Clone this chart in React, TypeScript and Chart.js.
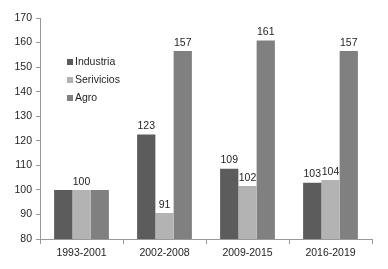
import React, { useEffect, useRef } from "react";
import { Chart, registerables } from "chart.js";

Chart.register(...registerables);

const categories = ["1993-2001", "2002-2008", "2009-2015", "2016-2019"];
const seriesNames = ["Industria", "Serivicios", "Agro"];
const industria = [100, 122.6, 108.6, 102.9];
const servicios = [100, 90.6, 101.6, 104];
const agro = [100, 156.6, 160.8, 156.6];
const industriaLabels = [null, "123", "109", "103"];
const serviciosLabels = ["100", "91", "102", "104"];
const agroLabels = [null, "157", "161", "157"];
const yTicks = [80, 90, 100, 110, 120, 130, 140, 150, 160, 170];

const colors = ["#5c5c5c", "#b3b3b3", "#808080"];
const FONT = "Liberation Sans, Arial, sans-serif";
const FS = 10.5;

export default function App() {
  const ref = useRef<HTMLCanvasElement | null>(null);
  useEffect(() => {
    document.body.style.margin = "0";
    const labelSets = [industriaLabels, serviciosLabels, agroLabels];
    const labelPlugin = {
      id: "valueLabels",
      afterDatasetsDraw(chart: any) {
        const ctx = chart.ctx;
        ctx.save();
        ctx.font = `${FS}px ${FONT}`;
        ctx.fillStyle = "#1e1e1e";
        ctx.textAlign = "center";
        ctx.textBaseline = "bottom";
        chart.data.datasets.forEach((_: any, di: number) => {
          const meta = chart.getDatasetMeta(di);
          meta.data.forEach((bar: any, i: number) => {
            const t = labelSets[di][i];
            if (t) ctx.fillText(t, bar.x, bar.y - 3);
          });
        });
        // legend
        const lx = 67;
        const ly = [62, 80, 98];
        seriesNames.forEach((n, i) => {
          ctx.fillStyle = colors[i];
          ctx.fillRect(lx, ly[i] - 3, 6, 6);
          ctx.fillStyle = "#1e1e1e";
          ctx.textAlign = "left";
          ctx.textBaseline = "middle";
          ctx.fillText(n, lx + 8, ly[i] + 0.5);
        });
        ctx.restore();
      },
    };
    const chart = new Chart(ref.current as HTMLCanvasElement, {
      type: "bar",
      data: {
        labels: categories,
        datasets: [
          { label: seriesNames[0], data: industria, backgroundColor: colors[0] },
          { label: seriesNames[1], data: servicios, backgroundColor: colors[1] },
          { label: seriesNames[2], data: agro, backgroundColor: colors[2] },
        ],
      },
      options: {
        animation: false,
        responsive: false,
        maintainAspectRatio: false,
        layout: { padding: { top: 18, right: 16, left: 0, bottom: 0 } },
        datasets: { bar: { categoryPercentage: 0.66, barPercentage: 1.0 } },
        plugins: { legend: { display: false }, tooltip: { enabled: false } },
        scales: {
          x: {
            grid: { drawOnChartArea: false, color: "#999", tickLength: 5, offset: true },
            border: { color: "#999" },
            ticks: { color: "#1e1e1e", font: { family: FONT, size: FS }, padding: 3 },
            afterFit(scale: any) {
              scale.height = 30;
            },
          },
          y: {
            min: 80,
            max: 170,
            grid: { drawOnChartArea: false, color: "#999", tickLength: 4 },
            border: { color: "#999" },
            afterBuildTicks(scale: any) {
              scale.ticks = yTicks.map((v) => ({ value: v }));
            },
            ticks: { color: "#1e1e1e", font: { family: FONT, size: FS }, padding: 4 },
            afterFit(scale: any) {
              scale.width = 40;
            },
          },
        },
      },
      plugins: [labelPlugin],
    });
    return () => chart.destroy();
  }, []);
  return (
    <div style={{ position: "absolute", left: 0, top: 0, width: 388, height: 269, background: "#fff" }}>
      <canvas ref={ref} width={388} height={269} />
    </div>
  );
}
